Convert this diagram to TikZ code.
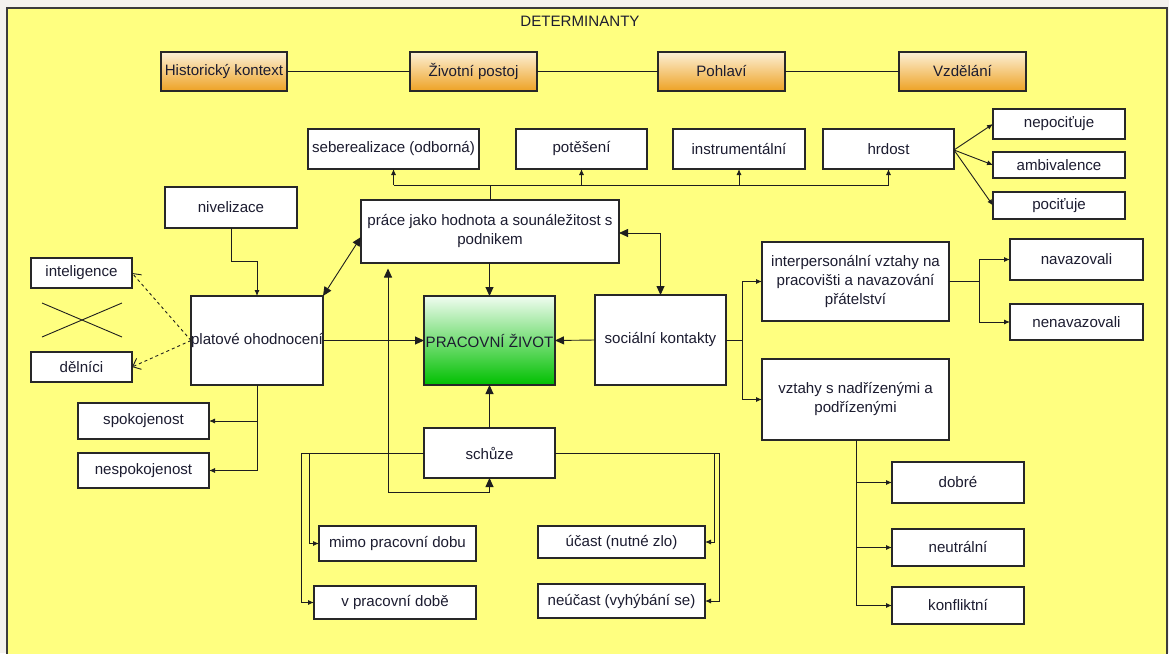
\documentclass[tikz,border=0pt]{standalone}
\usepackage{fontspec}
\setmainfont{Liberation Sans}
\usetikzlibrary{arrows.meta}
\definecolor{bgyellow}{RGB}{255,255,128}
\definecolor{outside}{RGB}{244,242,238}
\definecolor{frameclr}{RGB}{60,60,60}
\definecolor{boxline}{RGB}{40,40,40}
\definecolor{lineclr}{RGB}{30,30,30}
\definecolor{txt}{RGB}{28,28,48}
\definecolor{orangetop}{RGB}{252,240,214}
\definecolor{orangebot}{RGB}{238,162,36}
\definecolor{greentop}{RGB}{240,252,240}
\definecolor{greenbot}{RGB}{0,192,0}
\tikzset{
  lbl/.style={font=\fontsize{15.1}{19}\selectfont, text=txt},
  box/.style={lbl, draw=boxline, line width=1.2pt, fill=white, inner sep=0pt, outer sep=0pt, align=center},
  obox/.style={box, top color=orangetop, bottom color=orangebot},
  gbox/.style={box, top color=greentop, bottom color=greenbot},
  conn/.style={draw=lineclr, line width=0.9pt},
  bigarr/.style={conn, -{Triangle[length=9pt,width=8pt]}},
  bothbig/.style={conn, {Triangle[length=9pt,width=8pt]}-{Triangle[length=9pt,width=8pt]}},
  smallarr/.style={conn, -{Latex[length=6pt,width=5pt]}},
  dasharr/.style={conn, dashed, -{Straight Barb[length=7pt,width=12pt]}},
}
\begin{document}
\begin{tikzpicture}[x=1pt,y=-1pt]
\useasboundingbox (0,0) rectangle (1169,653);
\clip (0,0) rectangle (1169,653);
\fill[outside] (0,0) rectangle (1169,653);
\draw[fill=bgyellow, draw=frameclr, line width=1.6pt] (7,8) rectangle (1167,680);
\node[lbl] (title) at (580,21) {DETERMINANTY};

% determinants row
\node[obox, minimum width=126pt, minimum height=39pt] (hist) at (224,71.5) {Historický kontext};
\node[obox, minimum width=127pt, minimum height=39pt] (zivot) at (473.5,71.5) {Životní postoj};
\node[obox, minimum width=127pt, minimum height=39pt] (pohl) at (721.5,71.5) {Pohlaví};
\node[obox, minimum width=127pt, minimum height=39pt] (vzdel) at (962.5,71.5) {Vzdělání};

% second row
\node[box, minimum width=171pt, minimum height=40pt] (seber) at (393.5,149) {seberealizace (odborná)};
\node[box, minimum width=131pt, minimum height=40pt] (potes) at (581.5,149) {potěšení};
\node[box, minimum width=132pt, minimum height=40pt] (instr) at (739,149) {instrumentální};
\node[box, minimum width=131pt, minimum height=40pt] (hrdost) at (888.5,149) {hrdost};
\node[box, minimum width=132pt, minimum height=30pt] (nepoc) at (1059,124) {nepociťuje};
\node[box, minimum width=132pt, minimum height=26pt] (ambiv) at (1059,165) {ambivalence};
\node[box, minimum width=132pt, minimum height=27pt] (pocit) at (1059,205.5) {pociťuje};

% left
\node[box, minimum width=132pt, minimum height=41pt] (nivel) at (231,207.5) {nivelizace};
\node[box, minimum width=101pt, minimum height=30pt] (intel) at (81.5,273) {inteligence};
\node[box, minimum width=101pt, minimum height=30pt] (deln) at (81.5,367) {dělníci};
\node[box, minimum width=132pt, minimum height=89pt] (plat) at (257,340.5) {platové ohodnocení};
\node[box, minimum width=131pt, minimum height=36pt] (spok) at (143.5,421) {spokojenost};
\node[box, minimum width=131pt, minimum height=35pt] (nespok) at (143.5,470.5) {nespokojenost};

% centre
\node[box, minimum width=258pt, minimum height=63pt] (prace) at (490,231.5) {práce jako hodnota a sounáležitost s\\podnikem};
\node[gbox, minimum width=131pt, minimum height=89pt] (prac) at (489.5,340.5) {PRACOVNÍ ŽIVOT};
\node[box, minimum width=131pt, minimum height=90pt] (soc) at (660.5,340) {sociální kontakty};
\node[box, minimum width=131pt, minimum height=50pt] (schuze) at (489.5,453) {schůze};

% right
\node[box, minimum width=187pt, minimum height=79pt] (inter) at (855.5,281.5) {interpersonální vztahy na\\pracovišti a navazování\\přátelství};
\node[box, minimum width=187pt, minimum height=81pt] (vzt) at (855.5,399.5) {vztahy s nadřízenými a\\podřízenými};
\node[box, minimum width=133pt, minimum height=41pt] (navaz) at (1076.5,259.5) {navazovali};
\node[box, minimum width=133pt, minimum height=36pt] (nenavaz) at (1076.5,322) {nenavazovali};
\node[box, minimum width=132pt, minimum height=41pt] (dobre) at (958,482.5) {dobré};
\node[box, minimum width=132pt, minimum height=37pt] (neutr) at (958,547.5) {neutrální};
\node[box, minimum width=132pt, minimum height=37pt] (konfl) at (958,605.5) {konfliktní};

% bottom
\node[box, minimum width=157pt, minimum height=35pt] (mimo) at (397.5,543.5) {mimo pracovní dobu};
\node[box, minimum width=162pt, minimum height=33pt] (vprac) at (395,602.5) {v pracovní době};
\node[box, minimum width=167pt, minimum height=32pt] (ucast) at (621.5,542) {účast (nutné zlo)};
\node[box, minimum width=167pt, minimum height=34pt] (neucast) at (621.5,601) {neúčast (vyhýbání se)};

% determinants line
\draw[conn] (hist.east) -- (zivot.west);
\draw[conn] (zivot.east) -- (pohl.west);
\draw[conn] (pohl.east) -- (vzdel.west);

% bus above prace
\coordinate (busL) at (393.5,185);
\coordinate (busR) at (888.5,185);
\draw[conn] (prace.north) -- (prace.north |- busL);
\draw[conn] (busL) -- (busR);
\draw[smallarr] (busL) -- (seber.south);
\draw[smallarr] (potes.south |- busL) -- (potes.south);
\draw[smallarr] (instr.south |- busL) -- (instr.south);
\draw[smallarr] (busR) -- (hrdost.south);

% hrdost fan
\coordinate (hr) at (954,150);
\draw[smallarr] (hr) -- (nepoc.west);
\draw[smallarr] (hr) -- (ambiv.west);
\draw[smallarr] (hr) -- (pocit.west);

% nivelizace
\draw[smallarr] (nivel.south) -- (231,261) -- (257,261) -- (plat.north);

% X cross
\draw[conn] (42,303) -- (122,337);
\draw[conn] (42,337) -- (122,303);

% dashed
\draw[dasharr] (plat.west) -- (intel.east);
\draw[dasharr] (plat.west) -- (deln.east);

% platove to spokojenost
\coordinate (pb) at (257,470.5);
\draw[conn] (plat.south) -- (pb);
\draw[smallarr] (plat.south |- spok.east) -- (spok.east);
\draw[smallarr] (pb) -- (nespok.east);

% main connectors
\coordinate (pracel) at (361,237);
\draw[bothbig] (plat.north east) -- (pracel);
\draw[bigarr] (plat.east) -- (prac.west);
\draw[bigarr] (soc.west) -- (prac.east);
\draw[bigarr] (prace.south -| prac.north) -- (prac.north);
\draw[bigarr] (schuze.north) -- (prac.south);
\draw[bothbig] (prace.east |- 0,233) -| (soc.north);
\coordinate (loopT) at (388,263.5);
\coordinate (loopB) at (388,492);
\draw[bothbig, shorten <=5pt] (loopT) -- (loopB) -- (schuze.south |- loopB) -- (schuze.south);

% social tree
\coordinate (sb) at (742,340.5);
\draw[conn] (soc.east |- sb) -- (sb);
\draw[conn] (742,281.5) -- (742,399.5);
\draw[smallarr] (742,281.5) -- (inter.west);
\draw[smallarr] (742,399.5) -- (vzt.west);

\coordinate (ib) at (979,281.5);
\draw[conn] (inter.east) -- (ib);
\draw[conn] (979,259.5) -- (979,322);
\draw[smallarr] (979,259.5) -- (navaz.west);
\draw[smallarr] (979,322) -- (nenavaz.west);

\coordinate (vb) at (856,605.5);
\draw[conn] (vzt.south -| vb) -- (vb);
\draw[smallarr] (856,482.5) -- (dobre.west);
\draw[smallarr] (856,547.5) -- (neutr.west);
\draw[smallarr] (vb) -- (konfl.west);

% schuze tree
\draw[conn] (schuze.west) -- (301,453);
\draw[smallarr] (309,453) -- (309,543.5) -- (mimo.west);
\draw[smallarr] (301,453) -- (301,602.5) -- (vprac.west);
\draw[conn] (schuze.east) -- (719,453);
\draw[smallarr] (714,453) -- (714,542) -- (ucast.east);
\draw[smallarr] (719,453) -- (719,601) -- (neucast.east);
\end{tikzpicture}
\end{document}
